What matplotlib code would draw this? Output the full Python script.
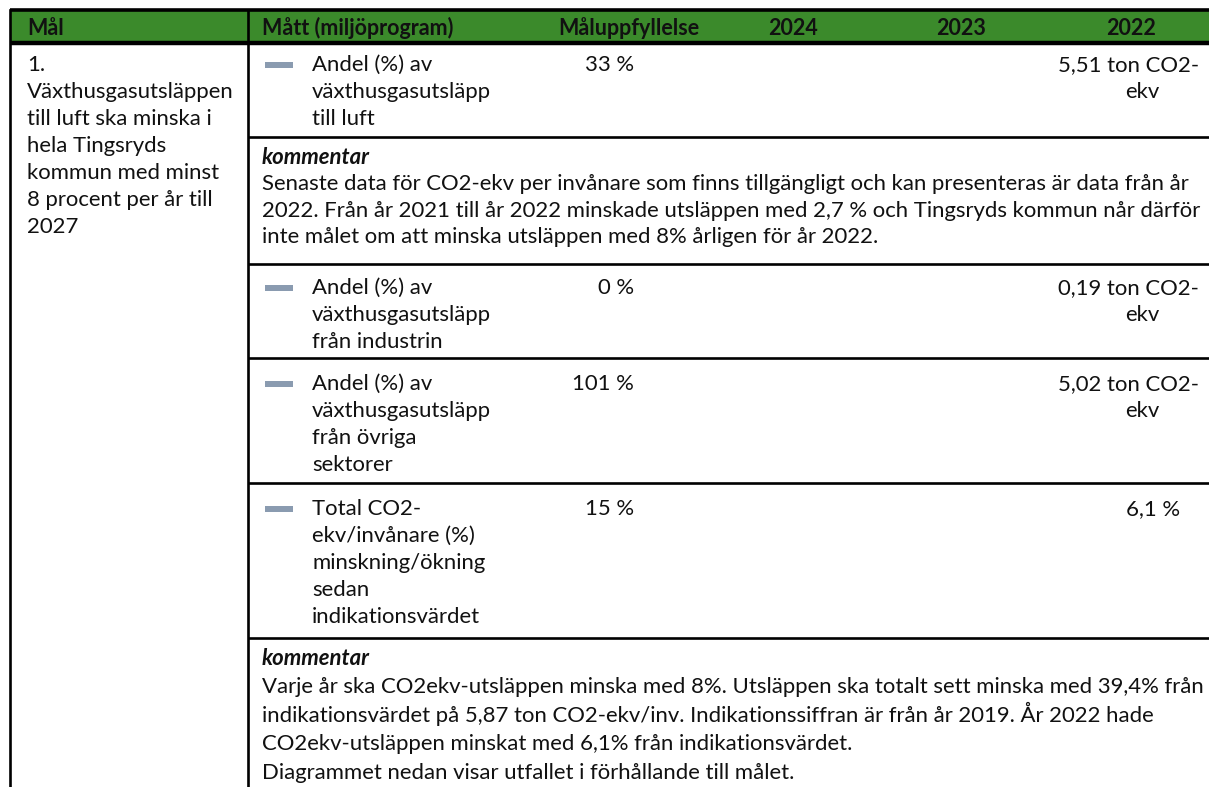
import matplotlib
matplotlib.use("Agg")
import matplotlib.pyplot as plt
from matplotlib.patches import Rectangle

# ---------------- data ----------------
header_labels = ["Mål", "Mått (miljöprogram)", "Måluppfyllelse", "2024", "2023", "2022"]
goal_lines = ["1.", "Växthusgasutsläppen", "till luft ska minska i", "hela Tingsryds",
              "kommun med minst", "8 procent per år till", "2027"]
measure_lines = [
    ["Andel (%) av", "växthusgasutsläpp", "till luft"],
    ["Andel (%) av", "växthusgasutsläpp", "från industrin"],
    ["Andel (%) av", "växthusgasutsläpp", "från övriga", "sektorer"],
    ["Total CO2-", "ekv/invånare (%)", "minskning/ökning", "sedan", "indikationsvärdet"],
]
fulfilment = ["33 %", "0 %", "101 %", "15 %"]
values_2024 = ["", "", "", ""]
values_2023 = ["", "", "", ""]
values_2022 = [["5,51 ton CO2-", "ekv"], ["0,19 ton CO2-", "ekv"],
               ["5,02 ton CO2-", "ekv"], ["6,1 %"]]
comment_title = "kommentar"
comments = [
    ["Senaste data för CO2-ekv per invånare som finns tillgängligt och kan presenteras är data från år",
     "2022. Från år 2021 till år 2022 minskade utsläppen med 2,7 % och Tingsryds kommun når därför",
     "inte målet om att minska utsläppen med 8% årligen för år 2022."],
    ["Varje år ska CO2ekv-utsläppen minska med 8%. Utsläppen ska totalt sett minska med 39,4% från",
     "indikationsvärdet på 5,87 ton CO2-ekv/inv. Indikationssiffran är från år 2019. År 2022 hade",
     "CO2ekv-utsläppen minskat med 6,1% från indikationsvärdet.",
     "Diagrammet nedan visar utfallet i förhållande till målet."],
]
# row sequence: ("m", index) measure row, ("c", index) comment row
row_seq = [("m", 0), ("c", 0), ("m", 1), ("m", 2), ("m", 3), ("c", 1)]

# ---------------- layout ----------------
W, H = 1209, 787
FONT = "Lato"
GREEN = "#3b8a2b"
DASH = "#8a9bb0"
TXT = "#111111"

hdr_top, hdr_bot = 10, 43
row_borders = [43, 137, 264, 358, 483, 638, 800]
first_off = [20, 19, 22, 24, 24, 19]
row_lh = [27.0, 26.5, 27.0, 27.0, 27.0, 28.5]
LH_GOAL = 27.0
x_left, x_div = 10, 248

fig = plt.figure(figsize=(W / 100, H / 100), dpi=100)
ax = fig.add_axes([0, 0, 1, 1])
ax.set_xlim(0, W)
ax.set_ylim(H, 0)
ax.axis("off")

# fit font size to observed width of the first comment line
probe = ax.text(262, 300, comments[0][0], fontsize=11, family=FONT)
fig.canvas.draw()
w11 = probe.get_window_extent().width
probe.remove()
FS = 11 * (930.0 / w11)
EM = FS * 100 / 72.0
BOFF = 0.36 * EM  # line centre -> baseline


def put(x, yc, s, ha="left", **kw):
    ax.text(x, yc + BOFF, s, fontsize=kw.pop("fs", FS), family=FONT, color=TXT,
            ha=ha, va="baseline", **kw)


# header
ax.add_patch(Rectangle((x_left, hdr_top), W - x_left, hdr_bot - hdr_top,
                       facecolor=GREEN, edgecolor="none", zorder=1))
hy = (hdr_top + hdr_bot) / 2 + 1
hdr_x = [27, 262, 629, 793, 961, 1131]
hdr_ha = ["left", "left", "center", "center", "center", "center"]
for lab, x, ha in zip(header_labels, hdr_x, hdr_ha):
    put(x, hy, lab, ha=ha, fs=FS * 0.97, fontweight="bold", zorder=3)

# lines
lw_thick, lw = 2.6, 1.9
ax.plot([x_left, W], [hdr_top, hdr_top], color="black", lw=lw_thick, zorder=4, solid_capstyle="butt")
ax.plot([x_left, W], [hdr_bot, hdr_bot], color="black", lw=lw_thick + 0.6, zorder=4, solid_capstyle="butt")
ax.plot([x_left, x_left], [hdr_top, H], color="black", lw=lw, zorder=4)
ax.plot([x_div, x_div], [hdr_top, H], color="black", lw=lw, zorder=4)
for yb in row_borders[1:-1]:
    ax.plot([x_div, W], [yb, yb], color="black", lw=lw, zorder=4, solid_capstyle="butt")

# goal column
for i, line in enumerate(goal_lines):
    put(27, row_borders[0] + first_off[0] + i * LH_GOAL, line)

# body rows
for r, (kind, idx) in enumerate(row_seq):
    y0 = row_borders[r] + first_off[r]
    LH = row_lh[r]
    if kind == "m":
        ax.add_patch(Rectangle((265, y0 - 1), 28, 5.5, facecolor=DASH, edgecolor="none"))
        for i, line in enumerate(measure_lines[idx]):
            put(312, y0 + i * LH, line)
        put(634, y0, fulfilment[idx], ha="right")
        put(793, y0, values_2024[idx], ha="center")
        put(961, y0, values_2023[idx], ha="center")
        vals = values_2022[idx]
        if len(vals) == 1:
            put(1153, y0, vals[0], ha="center")
        else:
            put(1199, y0, vals[0], ha="right")
            for j, v in enumerate(vals[1:], start=1):
                put(1142, y0 + j * LH, v, ha="center")
    else:
        put(262, y0, comment_title, fontweight="bold", style="italic")
        for i, line in enumerate(comments[idx], start=1):
            put(262, y0 + i * LH, line)

fig.savefig("out.png", dpi=100)
